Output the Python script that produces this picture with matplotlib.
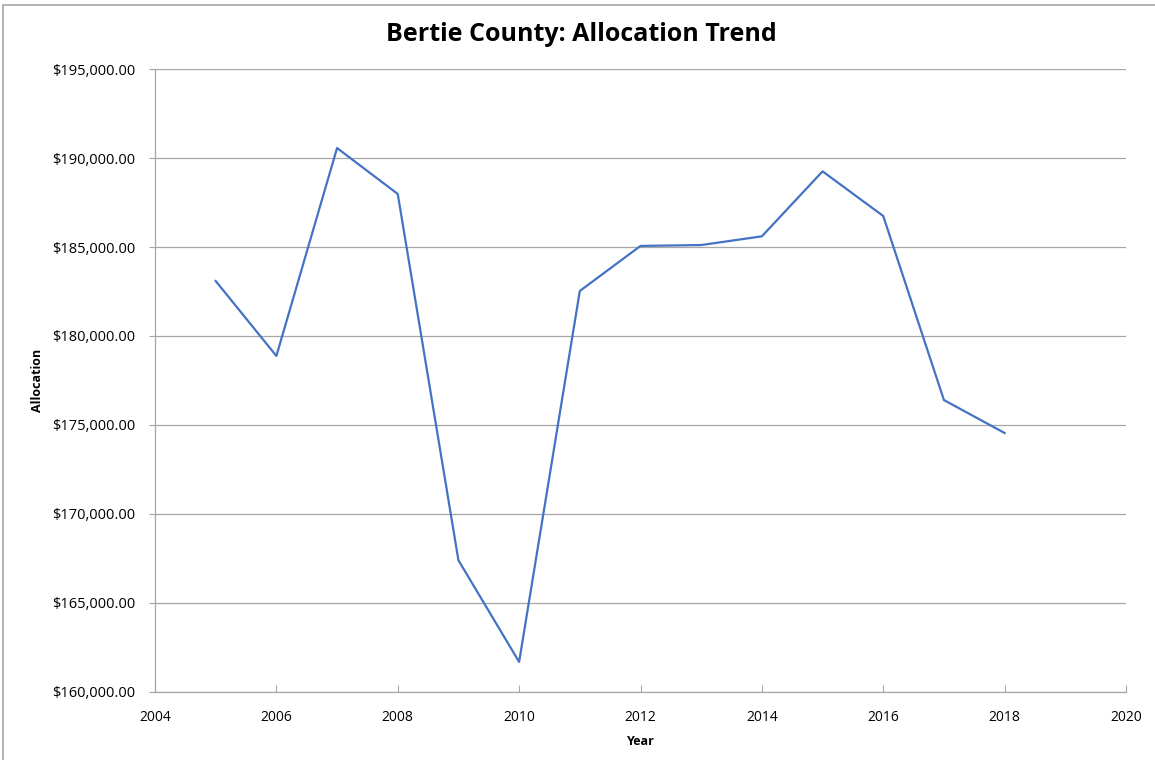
import matplotlib.pyplot as plt
from matplotlib.patches import Rectangle
from matplotlib.ticker import FuncFormatter

years = [2005, 2006, 2007, 2008, 2009, 2010, 2011, 2012, 2013, 2014, 2015, 2016, 2017, 2018]
allocation = [183090, 178880, 190560, 187980, 167400, 161690, 182530, 185060, 185110, 185600,
              189250, 186740, 176400, 174550]

x_ticks = [2004, 2006, 2008, 2010, 2012, 2014, 2016, 2018, 2020]
y_ticks = [160000, 165000, 170000, 175000, 180000, 185000, 190000, 195000]

plt.rcParams['font.family'] = ['Open Sans', 'DejaVu Sans']

fig = plt.figure(figsize=(11.55, 7.6), dpi=100)
ax = fig.add_axes([0.1342, 0.0895, 0.8407, 0.8197])

# outer chart border like the spreadsheet chart
fig.patches.append(Rectangle((3 / 1155, -0.01), 1.0, 1 - 5 / 760 + 0.01, transform=fig.transFigure,
                             fill=False, edgecolor='#a6a6a6', linewidth=1.2))

ax.plot(years, allocation, color='#4472C4', linewidth=1.6)

ax.set_xlim(2004, 2020)
ax.set_ylim(160000, 195000)
ax.set_xticks(x_ticks)
ax.set_yticks(y_ticks)
ax.yaxis.set_major_formatter(FuncFormatter(lambda v, p: '${:,.2f}'.format(v)))

ax.grid(axis='y', color='#a6a6a6', linewidth=0.9)
ax.set_axisbelow(True)
for s in ['top', 'right']:
    ax.spines[s].set_visible(False)
for s in ['left', 'bottom']:
    ax.spines[s].set_color('#a6a6a6')
    ax.spines[s].set_linewidth(0.9)

ax.tick_params(axis='y', direction='out', length=4, color='#a6a6a6', labelsize=10.5, pad=10)
ax.tick_params(axis='x', direction='in', length=5, color='#a6a6a6', labelsize=10, pad=13)

fig.text(0.503, 0.955, 'Bertie County: Allocation Trend', fontsize=18, fontweight='bold',
         ha='center', va='center')
ax.set_xlabel('Year', fontsize=9, fontweight='bold', labelpad=7)
ax.set_ylabel('Allocation', fontsize=9, fontweight='bold', labelpad=6)

fig.savefig('out.png', dpi=100)
